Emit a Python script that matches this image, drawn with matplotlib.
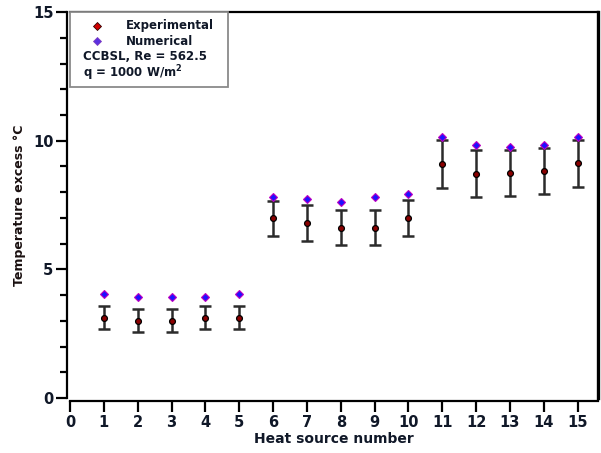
import numpy as np
import matplotlib
matplotlib.use("Agg")
import matplotlib.pyplot as plt
from matplotlib.patches import Rectangle
from matplotlib.lines import Line2D

# Номери джерел тепла та виміряні / розраховані температури
source = np.arange(1, 16)
experimental = [3.12, 3.0, 3.0, 3.12, 3.12, 6.99, 6.82, 6.62, 6.62, 7.0,
                9.1, 8.72, 8.74, 8.83, 9.12]
exp_error = [0.44, 0.44, 0.44, 0.44, 0.44, 0.68, 0.70, 0.67, 0.67, 0.70,
             0.93, 0.91, 0.90, 0.89, 0.90]
numerical = [4.03, 3.93, 3.93, 3.93, 4.03, 7.80, 7.73, 7.62, 7.80, 7.94,
             10.16, 9.84, 9.75, 9.84, 10.16]

x_ticks = np.arange(0, 16)
y_ticks = [0, 5, 10, 15]

text_color = '#101828'

fig = plt.figure(figsize=(6.01, 4.53), dpi=100)
ax = fig.add_axes([0.1165, 0.1214, 0.8785, 0.852])

# Експериментальні точки з похибками
ax.errorbar(source, experimental, yerr=exp_error, fmt='none',
            ecolor='#2b2b2b', elinewidth=1.8, capsize=4.5, capthick=1.8, zorder=2)
ax.plot(source, experimental, 'o', ms=4.2, mfc='#8b0000', mec='black',
        mew=0.9, zorder=3)
# Чисельні результати
ax.plot(source, numerical, 'D', ms=4.3, mfc='#1e10ff', mec='#c000c0',
        mew=0.8, zorder=4)

ax.set_xlim(0, 15.6)
ax.set_ylim(0, 15)
ax.set_xticks(x_ticks)
ax.set_yticks(y_ticks)
ax.set_yticks(np.arange(0, 16, 1), minor=True)

for side in ['left', 'bottom']:
    ax.spines[side].set_position(('outward', 2))
    ax.spines[side].set_linewidth(1.6)
ax.spines['top'].set_linewidth(1.6)
ax.spines['right'].set_linewidth(2.4)
ax.spines['left'].set_bounds(0, 15)

ax.tick_params(axis='both', which='major', direction='out', length=8,
               width=1.6, labelsize=10.5, labelcolor=text_color, pad=2)
ax.tick_params(axis='y', which='minor', direction='out', length=5, width=1.6)
ax.tick_params(axis='x', which='minor', bottom=False)
for lbl in ax.get_xticklabels() + ax.get_yticklabels():
    lbl.set_fontweight('bold')

ax.set_xlabel('Heat source number', fontsize=10, fontweight='bold',
              color=text_color, labelpad=2)
ax.set_ylabel('Temperature excess °C', fontsize=9, fontweight='bold',
              color='#1a1010', labelpad=5)

# Рамка легенди з підписами
ax.add_patch(Rectangle((0, 0.806), 0.299, 0.194, transform=ax.transAxes,
                       fill=True, facecolor='white', edgecolor='#8a8a8a',
                       lw=1.3, zorder=5, clip_on=False))
ax.add_line(Line2D([0.052], [0.965], transform=ax.transAxes, marker='D',
                   ms=4.3, mfc='#d00000', mec='#300000', mew=0.6, zorder=6))
ax.add_line(Line2D([0.052], [0.924], transform=ax.transAxes, marker='D',
                   ms=4.3, mfc='#5a30e0', mec='#8040c0', mew=0.6, zorder=6))
legend_text = dict(transform=ax.transAxes, fontsize=8.5, fontweight='bold',
                   color=text_color, va='center', ha='left', zorder=6)
ax.text(0.106, 0.965, 'Experimental', **legend_text)
ax.text(0.106, 0.924, 'Numerical', **legend_text)
ax.text(0.024, 0.885, 'CCBSL, Re = 562.5', **legend_text)
ax.text(0.024, 0.842, 'q = 1000 W/m$^\\mathbf{2}$', **legend_text)

fig.savefig('out.png', dpi=100)
